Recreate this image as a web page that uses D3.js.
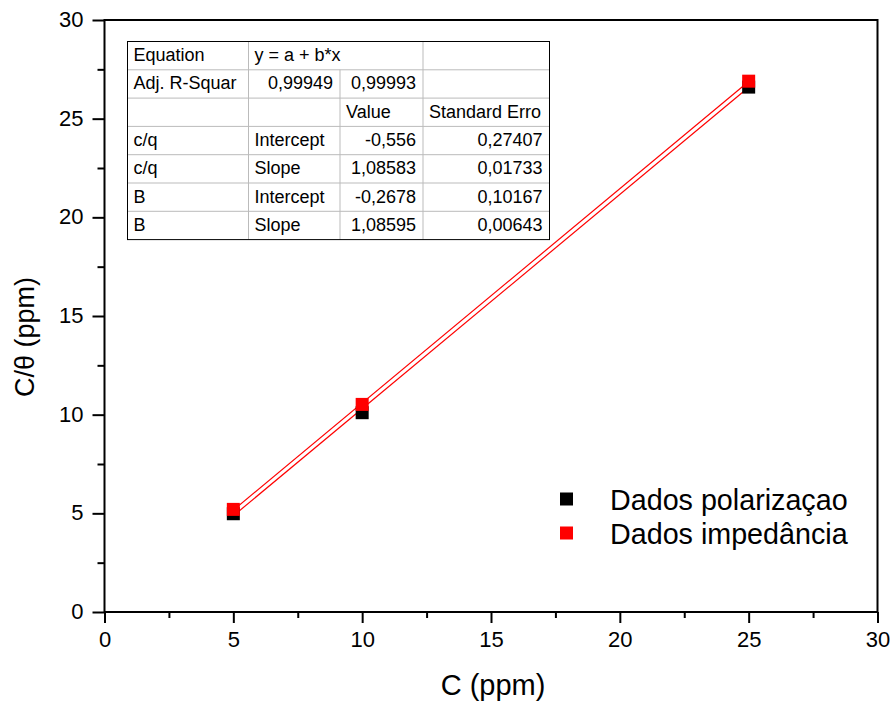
<!DOCTYPE html>
<html><head><meta charset="utf-8">
<script src="https://cdn.jsdelivr.net/npm/d3@7"></script>
<style>body{margin:0;background:#fff}text{font-family:"Liberation Sans",Arial,sans-serif}</style>
</head><body><svg id="c" width="893" height="706"></svg>
<script>
const concentrations = [5, 10, 25];
const polarizacao = [4.98, 10.1, 26.6];
const impedancia = [5.2, 10.52, 26.9];
const seriesNames = ["Dados polarizaçao", "Dados impedância"];
const seriesColors = ["#000000", "#ff0000"];
const fitIntercepts = [-0.556, -0.2678];
const fitSlopes = [1.08583, 1.08595];
const xTicks = [0, 5, 10, 15, 20, 25, 30];
const yTicks = [0, 5, 10, 15, 20, 25, 30];
const tableRows = [
  ["Equation", "y = a + b*x", "", ""],
  ["Adj. R-Squar", "0,99949", "0,99993", ""],
  ["", "", "Value", "Standard Erro"],
  ["c/q", "Intercept", "-0,556", "0,27407"],
  ["c/q", "Slope", "1,08583", "0,01733"],
  ["B", "Intercept", "-0,2678", "0,10167"],
  ["B", "Slope", "1,08595", "0,00643"]
];

const svg = d3.select("#c");
const L = 104.5, R = 877.5, T = 20, B = 612;
const x = d3.scaleLinear().domain([0, 30]).range([L, R]);
const y = d3.scaleLinear().domain([0, 30]).range([B, T]);

// frame
svg.append("rect").attr("x", L).attr("y", T).attr("width", R - L).attr("height", B - T)
  .attr("fill", "none").attr("stroke", "#000").attr("stroke-width", 2);

// ticks
const minors = d3.range(2.5, 30, 5);
const xAxis = d3.axisBottom(x).tickValues(xTicks).tickSize(11).tickPadding(8).tickFormat(d3.format("d"));
const gx = svg.append("g").attr("transform", `translate(0,${B})`).call(xAxis);
gx.select(".domain").remove();
gx.selectAll("line").attr("stroke-width", 2);
gx.selectAll("text").attr("font-size", 22).attr("fill", "#000");
const gxm = svg.append("g").attr("transform", `translate(0,${B})`)
  .call(d3.axisBottom(x).tickValues(minors).tickSize(6).tickFormat(""));
gxm.select(".domain").remove(); gxm.selectAll("line").attr("stroke-width", 2);

const yAxis = d3.axisLeft(y).tickValues(yTicks).tickSize(12).tickPadding(9).tickFormat(d3.format("d"));
const gy = svg.append("g").attr("transform", `translate(${L},0)`).call(yAxis);
gy.select(".domain").remove();
gy.selectAll("line").attr("stroke-width", 2);
gy.selectAll("text").attr("font-size", 22).attr("fill", "#000").attr("dy", "0.3em");
const gym = svg.append("g").attr("transform", `translate(${L},0)`)
  .call(d3.axisLeft(y).tickValues(minors).tickSize(7).tickFormat(""));
gym.select(".domain").remove(); gym.selectAll("line").attr("stroke-width", 2);

// axis titles
svg.append("text").attr("x", 493).attr("y", 695).attr("text-anchor", "middle")
  .attr("font-size", 29).text("C (ppm)");
svg.append("text").attr("transform", "translate(34,337) rotate(-90)").attr("text-anchor", "middle")
  .attr("font-size", 27).text("C/θ (ppm)");

// fit lines
fitIntercepts.forEach((a, i) => {
  const b = fitSlopes[i];
  svg.append("line")
    .attr("x1", x(5)).attr("y1", y(a + b * 5))
    .attr("x2", x(25)).attr("y2", y(a + b * 25))
    .attr("stroke", "#ff0000").attr("stroke-width", 1.2);
});

// points
const S = 13;
[polarizacao, impedancia].forEach((vals, i) => {
  svg.append("g").selectAll("rect").data(vals).join("rect")
    .attr("x", (d, j) => x(concentrations[j]) - S / 2)
    .attr("y", d => y(d) - S / 2)
    .attr("width", S).attr("height", S)
    .attr("fill", seriesColors[i]);
});

// legend
seriesNames.forEach((n, i) => {
  const cy = 499 + i * 34;
  svg.append("rect").attr("x", 560).attr("y", cy - 6.5).attr("width", S).attr("height", S).attr("fill", seriesColors[i]);
  svg.append("text").attr("x", 610).attr("y", cy + 11).attr("font-size", 28.7).text(n);
});

// table
const colX = [127.5, 248.5, 340, 423, 549.5];
const rowY = d3.range(8).map(i => 41.5 + i * 28.3);
const tg = svg.append("g");
for (let i = 1; i < 7; i++) {
  tg.append("line").attr("x1", colX[0]).attr("x2", colX[4]).attr("y1", rowY[i]).attr("y2", rowY[i])
    .attr("stroke", "#bbb").attr("stroke-width", 1);
}
[1, 2, 3].forEach(c => {
  tg.append("line").attr("x1", colX[c]).attr("x2", colX[c])
    .attr("y1", c === 2 ? rowY[1] : rowY[0]).attr("y2", rowY[7])
    .attr("stroke", "#bbb").attr("stroke-width", 1);
});
tg.append("rect").attr("x", colX[0]).attr("y", rowY[0]).attr("width", colX[4] - colX[0]).attr("height", rowY[7] - rowY[0])
  .attr("fill", "none").attr("stroke", "#000").attr("stroke-width", 1);
tableRows.forEach((row, r) => {
  row.forEach((cell, c) => {
    if (!cell) return;
    const numeric = /^-?\d/.test(cell);
    const t = tg.append("text").attr("font-size", 18).attr("y", rowY[r] + 19.5).text(cell);
    if (numeric) t.attr("x", colX[c + 1] - 7).attr("text-anchor", "end");
    else t.attr("x", colX[c] + 6);
  });
});
</script></body></html>
